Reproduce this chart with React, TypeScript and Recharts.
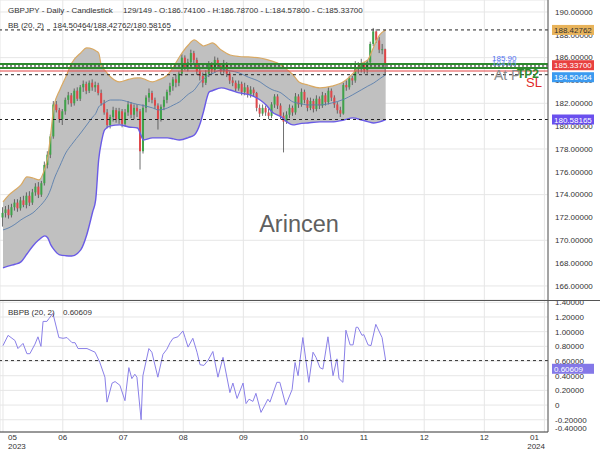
import React from 'react';
import { ComposedChart, LineChart, Line, Area, Bar, XAxis, YAxis, CartesianGrid, ReferenceLine } from 'recharts';

const FONT = '"Liberation Sans", Arial, sans-serif';

// ---- candles (daily GBPJPY) ----
const opens = [172.0,172.4,172.7,172.2,172.9,173.3,172.8,173.5,173.1,173.9,173.3,174.2,174.7,174.0,175.0,176.6,177.5,179.1,181.9,181.4,
180.6,181.3,182.3,182.7,182.0,183.1,182.4,183.4,183.7,183.1,183.8,183.4,183.6,182.9,182.0,181.2,180.1,180.8,181.4,180.6,
181.3,180.2,181.2,181.9,181.0,181.6,181.3,177.8,181.6,182.5,182.9,182.3,181.8,180.6,181.7,182.3,183.0,183.5,184.1,183.8,
184.6,186.0,185.2,185.6,186.4,185.8,184.8,184.4,183.8,184.6,185.4,184.9,185.8,185.3,184.8,185.5,184.6,184.0,183.8,183.3,
183.7,183.0,183.4,182.8,183.2,182.9,181.6,181.1,181.6,181.2,180.9,181.9,182.6,181.8,180.9,180.4,181.0,181.6,181.2,182.6,
181.9,183.0,182.3,181.6,182.2,181.5,182.4,181.8,182.7,182.1,183.1,182.5,181.9,181.4,181.1,183.6,183.4,184.2,184.0,185.2,
185.0,185.4,184.9,185.6,187.2,188.3,187.5,186.7,186.741];
const highs = [172.9,173.0,173.1,173.2,173.6,173.6,173.8,173.9,174.2,174.3,174.5,175.0,175.1,175.2,176.9,177.8,179.3,182.2,182.2,181.6,
181.5,182.5,183.0,182.9,183.3,183.4,183.6,184.0,183.9,184.0,184.1,183.9,183.8,183.2,182.3,181.5,181.0,181.7,181.6,181.6,
181.5,181.5,182.2,182.1,181.9,181.9,181.5,181.9,182.7,183.3,183.1,182.5,182.0,181.9,182.6,183.2,183.8,184.3,184.5,184.8,
186.3,186.2,185.9,186.7,186.6,186.0,185.2,184.7,184.9,185.7,185.6,186.1,186.0,185.5,185.8,185.6,184.8,184.3,184.0,184.0,
183.9,183.8,183.6,183.5,183.4,183.0,181.9,181.9,181.8,181.5,182.1,182.8,182.8,182.0,181.2,181.3,181.9,181.8,182.9,182.8,
183.3,183.2,182.5,182.5,182.4,182.7,182.6,183.0,182.9,183.4,183.3,182.7,182.1,181.7,183.8,184.0,184.4,184.4,185.7,185.6,
185.9,185.6,185.8,187.4,188.6,188.5,187.8,187.2,186.787];
const lows = [171.2,172.0,171.9,172.0,172.6,172.5,172.6,172.9,172.8,173.0,173.1,173.9,173.7,173.8,174.8,176.3,177.2,178.9,181.2,180.3,
180.1,181.0,181.9,181.7,181.8,182.2,182.2,183.0,182.8,182.9,183.1,183.0,182.7,181.8,181.0,179.8,179.8,180.4,180.3,180.2,
179.9,180.0,180.9,180.7,180.6,180.8,176.2,177.6,181.2,182.1,182.0,181.5,179.7,180.4,181.4,182.0,182.7,183.1,183.4,183.5,
184.4,184.9,184.8,185.3,185.5,184.5,184.0,183.4,183.6,184.3,184.6,184.7,185.0,184.5,184.6,184.3,183.7,183.5,183.0,183.1,
182.7,182.7,182.5,182.5,182.6,181.3,180.8,180.9,180.9,180.6,180.7,181.6,181.5,180.6,177.7,180.2,180.7,180.9,181.0,181.6,
181.7,182.0,181.3,181.4,181.2,181.3,181.5,181.6,181.8,181.9,182.2,181.6,181.1,180.8,181.0,183.1,183.2,183.6,183.8,184.6,
184.7,184.6,184.6,185.4,187.0,187.3,186.4,186.3,184.578];
const closes = [172.4,172.7,172.2,172.9,173.3,172.8,173.5,173.1,173.9,173.3,174.2,174.7,174.0,175.0,176.6,177.5,179.1,181.9,181.4,180.6,
181.3,182.3,182.7,182.0,183.1,182.4,183.4,183.7,183.1,183.8,183.4,183.6,182.9,182.0,181.2,180.1,180.8,181.4,180.6,181.3,
180.2,181.2,181.9,181.0,181.6,181.3,177.8,181.6,182.5,182.9,182.3,181.8,180.6,181.7,182.3,183.0,183.5,184.1,183.8,184.6,
186.0,185.2,185.6,186.4,185.8,184.8,184.4,183.8,184.6,185.4,184.9,185.8,185.3,184.8,185.5,184.6,184.0,183.8,183.3,183.7,
183.0,183.4,182.8,183.2,182.9,181.6,181.1,181.6,181.2,180.9,181.9,182.6,181.8,180.9,180.4,181.0,181.6,181.2,182.6,181.9,
183.0,182.3,181.6,182.2,181.5,182.4,181.8,182.7,182.1,183.1,182.5,181.9,181.4,181.1,183.6,183.4,184.2,184.0,185.2,185.0,
185.4,184.9,185.6,187.2,188.3,187.5,186.7,186.74,185.337];

// ---- Bollinger bands (20, 2), read at sampled bars ----
const bandIdx = [0,2,4,6,8,10,12,14,15,16,17,19,21,23,26,28,30,31,32,33,34,36,39,42,45,46,47,50,52,55,57,59,62,64,66,67,69,70,73,76,79,82,86,88,90,93,95,97,99,102,106,110,114,117,120,122,124,126,128];
const bandUpper = [173.36,173.98,174.4,174.85,175.55,175.46,175.29,176.3,177.3,179.4,181.68,183.17,184.31,185.53,186.41,186.85,186.76,186.6,186.41,185.18,184.9,184.3,183.87,184.1,184.22,184.22,184.15,183.87,184.05,184.48,185.18,186.06,187.11,187.55,187.2,187.02,187.2,187.29,186.67,186.23,186.1,186.06,185.97,185.85,185.7,185.36,184.95,184.5,183.87,183.6,183.35,183.5,183.9,184.6,185.5,185.8,186.94,187.99,188.42762];
const bandMid = [170.91,171.1,171.4,171.79,172.1,172.4,172.9,173.5,173.9,174.5,175.29,176.5,177.65,178.4,179.4,180.1,180.8,181.1,181.68,181.9,182.05,182.29,182.29,182.12,181.9,181.86,181.8,181.6,181.42,181.59,181.85,182.12,182.8,183.17,183.87,184.1,184.5,184.6,184.92,184.85,184.66,184.3,183.87,183.5,183.2,182.91,182.5,182.12,182.0,181.86,181.86,182.03,182.35,182.75,183.2,183.5,183.78,184.15,184.50464];
const bandLower = [167.58,167.76,167.9,168.11,168.8,169.5,170.04,170.39,170.2,169.6,169.2,168.72,168.65,168.63,169.16,170.47,172.5,173.54,177.04,178.7,179.67,180.02,180.11,179.93,179.84,179.3,178.79,178.97,178.97,178.97,178.88,178.79,179.0,179.23,180.28,181.2,183.0,183.1,183.35,183.17,182.91,182.78,182.29,181.86,181.24,180.81,180.37,180.11,180.2,180.28,180.37,180.37,180.54,180.72,180.54,180.4,180.28,180.37,180.58165];

// ---- BBPB (20, 2) ----
const bbpbIdx = [0,1.7,4,5,6.7,8,9,10.7,11.7,12.7,13.4,14.7,15.4,16.7,18.7,20.1,21.4,23.1,24.1,25.1,28.1,30.8,32.4,34.1,34.8,36.5,37.5,39.1,40.8,42.1,43.1,44.1,44.8,46.2,46.8,48.8,49.8,51.8,53.5,54.8,55.9,56.9,58.5,60.2,60.9,61.9,63.5,64.9,65.9,67.2,68.6,70.2,71.9,73.6,75.9,76.9,78.3,80.3,81.3,82.3,83.6,84.6,86.3,87.6,88.6,89.3,91.6,92.6,94.6,96.7,97.7,98.7,100.3,102.3,103.7,104.7,106,107,108.7,110.4,111.7,112.4,113.7,114.7,116.1,117.1,118.1,118.7,120.1,120.7,122.1,123.1,124.7,126.8,128];
const bbpbVal = [0.81,0.95,0.88,0.77,0.84,0.70,0.70,0.83,0.93,0.80,1.14,1.14,1.18,1.25,0.92,0.91,0.92,0.85,0.85,0.77,0.77,0.72,0.58,0.38,0.04,0.30,0.32,0.27,0.06,0.51,0.36,0.42,0.38,-0.20,0.40,0.77,0.72,0.38,0.69,0.76,0.85,0.91,0.93,1.01,0.92,0.79,0.91,0.72,0.55,0.54,0.61,0.73,0.38,0.65,0.17,0.30,0.09,0.30,0.02,0.08,0.05,0.16,-0.10,0.00,0.08,0.04,0.31,0.31,0.00,0.21,0.58,0.40,0.92,0.31,0.72,0.65,0.51,0.49,0.93,0.40,0.63,0.36,0.31,1.02,0.82,0.82,1.06,1.06,0.95,0.96,0.82,0.81,1.10,0.92,0.60609];

// ---- axes ----
const monthTicks = [0, 20, 40.2, 60.3, 80.4, 100.6, 120.7, 140.9, 161, 181.1];
const monthLabels = ['05', '06', '07', '08', '09', '10', '11', '12', '12', '01'];
const yearLabels = ['2023', '', '', '', '', '', '', '', '', '2024'];
const priceTicks = [166, 168, 170, 172, 174, 176, 178, 180, 182, 184, 186, 188, 190];
const pbTicks = [-0.31, -0.2, 0, 0.2, 0.4, 0.6, 0.8, 1.0, 1.2, 1.4];
const xDomain = [-1, 182.3];
const priceDomain = [164.77, 191.05];
const pbDomain = [-0.367, 1.418];

const candles = closes.map((c, i) => ({ x: i, range: [lows[i], highs[i]], open: opens[i], high: highs[i], low: lows[i], close: c }));
const bands = bandIdx.map((x, i) => ({ x, upper: bandUpper[i], mid: bandMid[i], lower: bandLower[i], range: [bandLower[i], bandUpper[i]] }));
const bbpb = bbpbIdx.map((x, i) => ({ x, v: bbpbVal[i] }));

const Candle = (props: any) => {
  const { x, y, width, height, payload } = props;
  if (x == null || y == null || !payload) return null;
  const top = Math.min(y, y + height);
  const h = Math.abs(height);
  const { open, close, high, low } = payload;
  const ppu = high > low ? h / (high - low) : 0;
  const yo = top + (high - open) * ppu;
  const yc = top + (high - close) * ppu;
  const cx = x + width / 2;
  const up = close >= open;
  return (
    <g>
      <line x1={cx} x2={cx} y1={top} y2={top + h} stroke="#4a4a4a" strokeWidth={0.8} />
      <rect x={cx - 1} y={Math.min(yo, yc)} width={2} height={Math.max(1, Math.abs(yc - yo))} fill={up ? '#3fa34a' : '#e0474a'} />
    </g>
  );
};

const Badge = (props: any) => {
  const { viewBox, text, bg, fg, dy = 0 } = props;
  if (!viewBox) return null;
  const bx = viewBox.x + viewBox.width + 4;
  const cy = viewBox.y + dy;
  return (
    <g>
      <rect x={bx} y={cy - 5} width={42} height={10} fill={bg} />
      <text x={bx + 2} y={cy + 3} fontSize={8} fontFamily={FONT} fill={fg}>{text}</text>
    </g>
  );
};

const MonthTick = (props: any) => {
  const { x, y, payload } = props;
  const i = monthTicks.indexOf(payload.value);
  let tx = x;
  let anchor: any = 'middle';
  if (i === 0) { tx = 8; anchor = 'start'; }
  if (i === monthTicks.length - 1) { tx = 545; anchor = 'end'; }
  return (
    <g>
      <text x={i === monthTicks.length - 1 ? 539 : tx} y={y + 8} textAnchor={anchor} fontSize={8} fontFamily={FONT} fill="#333">{monthLabels[i]}</text>
      {yearLabels[i] ? <text x={tx} y={y + 17} textAnchor={anchor} fontSize={8} fontFamily={FONT} fill="#333">{yearLabels[i]}</text> : null}
    </g>
  );
};

const fmtPb = (v: number) => (v < -0.25 ? '-0.40000' : v === 0 ? '0' : v.toFixed(5));

export default function App() {
  return (
    <div style={{ position: 'absolute', left: 0, top: 0, width: 600, height: 450, background: '#fff', fontFamily: FONT }}>
      <div style={{ position: 'absolute', left: 0, top: 0 }}>
        <ComposedChart width={600} height={300} data={candles} margin={{ top: 0, right: 0, bottom: 0, left: 0 }}>
          <CartesianGrid stroke="#e6e6e6" strokeWidth={1} />
          <XAxis type="number" dataKey="x" domain={xDomain} ticks={monthTicks} hide allowDataOverflow />
          <YAxis orientation="right" width={52} domain={priceDomain} ticks={priceTicks} allowDataOverflow
            tickFormatter={(v: number) => v.toFixed(5)} tick={{ fontSize: 8, fill: '#333', fontFamily: FONT }}
            tickLine={false} tickSize={0} tickMargin={7} axisLine={{ stroke: '#555' }} />
          <Area data={bands} dataKey="range" type="monotone" stroke="none" fill="#c0c0c0" fillOpacity={1} dot={false} activeDot={false} isAnimationActive={false} />
          <Line data={bands} dataKey="mid" type="monotone" stroke="#5a7fae" strokeWidth={0.9} dot={false} activeDot={false} isAnimationActive={false} />
          <Line data={bands} dataKey="upper" type="monotone" stroke="#d9a963" strokeWidth={1.2} dot={false} activeDot={false} isAnimationActive={false} />
          <Line data={bands} dataKey="lower" type="monotone" stroke="#6a5be6" strokeWidth={1.4} dot={false} activeDot={false} isAnimationActive={false} />
          <Bar dataKey="range" barSize={2} shape={<Candle />} isAnimationActive={false} />
          <ReferenceLine y={188.42762} stroke="#222" strokeDasharray="3 3" />
          <ReferenceLine y={185.45} stroke="#2d8a2d" strokeWidth={2} />
          <ReferenceLine y={185.1} stroke="#2d8a2d" strokeWidth={2} />
          <ReferenceLine y={185.27} stroke="#111" strokeDasharray="2 2" />
          <ReferenceLine y={184.83} stroke="#e04444" strokeWidth={1} />
          <ReferenceLine y={184.50464} stroke="#222" strokeDasharray="3 3" />
          <ReferenceLine y={180.58165} stroke="#222" strokeDasharray="3 3" />
        </ComposedChart>
      </div>
      <div style={{ position: 'absolute', left: 0, top: 0 }}>
        <ComposedChart width={600} height={300} data={candles} margin={{ top: 0, right: 0, bottom: 0, left: 0 }}>
          <XAxis type="number" dataKey="x" domain={xDomain} hide allowDataOverflow />
          <YAxis orientation="right" width={52} domain={priceDomain} ticks={priceTicks} allowDataOverflow tick={false} tickLine={false} axisLine={false} />
          <ReferenceLine y={188.42762} stroke="none" label={<Badge text="188.42762" bg="#e8b35a" fg="#333" />} />
          <ReferenceLine y={185.337} stroke="none" label={<Badge text="185.33700" bg="#e8403f" fg="#fff" />} />
          <ReferenceLine y={184.50464} stroke="none" label={<Badge text="184.50464" bg="#3b9af0" fg="#fff" dy={2.5} />} />
          <ReferenceLine y={180.58165} stroke="none" label={<Badge text="180.58165" bg="#6a50ee" fg="#fff" />} />
        </ComposedChart>
      </div>
      <div style={{ position: 'absolute', left: 0, top: 300 }}>
        <LineChart width={600} height={150} data={bbpb} margin={{ top: 1, right: 0, bottom: 0, left: 0 }}>
          <CartesianGrid stroke="#e6e6e6" strokeWidth={1} horizontalValues={[-0.2, 0, 0.2, 0.4, 0.6, 0.8, 1.0, 1.2, 1.4]} />
          <XAxis type="number" dataKey="x" domain={xDomain} ticks={monthTicks} allowDataOverflow height={18}
            tick={<MonthTick />} tickLine={false} tickSize={0} tickMargin={0} axisLine={{ stroke: '#333' }} interval={0} />
          <YAxis orientation="right" width={52} domain={pbDomain} ticks={pbTicks} allowDataOverflow
            tickFormatter={fmtPb} tick={{ fontSize: 8, fill: '#333', fontFamily: FONT }}
            tickLine={false} tickSize={0} tickMargin={7} axisLine={{ stroke: '#555' }} interval={0} />
          <Line dataKey="v" type="linear" stroke="#8a80e8" strokeWidth={1} dot={false} activeDot={false} isAnimationActive={false} />
          <ReferenceLine y={0.60609} stroke="#333" strokeDasharray="3 3" />
        </LineChart>
      </div>
      <div style={{ position: 'absolute', left: 0, top: 300 }}>
        <LineChart width={600} height={150} data={bbpb} margin={{ top: 1, right: 0, bottom: 0, left: 0 }}>
          <XAxis type="number" dataKey="x" domain={xDomain} hide allowDataOverflow height={18} />
          <YAxis orientation="right" width={52} domain={pbDomain} ticks={pbTicks} allowDataOverflow tick={false} tickLine={false} axisLine={false} />
          <ReferenceLine y={0.60609} stroke="none" label={<Badge text="0.60609" bg="#8478e8" fg="#fff" />} />
        </LineChart>
      </div>
      <svg width={600} height={450} style={{ position: 'absolute', left: 0, top: 0, pointerEvents: 'none' }} fontFamily={FONT}>
        <text x={8} y={13} fontSize={8} fill="#333">GBPJPY - Daily - Candlestick</text>
        <text x={123} y={13} fontSize={8} fill="#333">129/149 - O:186.74100 - H:186.78700 - L:184.57800 - C:185.33700</text>
        <text x={8} y={28} fontSize={8} fill="#333">BB (20, 2)</text>
        <text x={53} y={28} fontSize={8} fill="#333">184.50464/188.42762/180.58165</text>
        <text x={8} y={315} fontSize={8} fill="#333">BBPB (20, 2)</text>
        <text x={63} y={315} fontSize={8} fill="#333">0.60609</text>
        <text x={299} y={232} fontSize={23.5} fill="#606060" textAnchor="middle">Arincen</text>
        <text x={492} y={61} fontSize={8} fill="#4f6ff0">185.90</text>
        <text x={492} y={66} fontSize={8} fill="#7b95f2">184.65</text>
        <text x={494} y={80} fontSize={14} fill="#8c8c8c">At P</text>
        <text x={517} y={78} fontSize={12} fontWeight="bold" fill="#2e8b2e">TP2</text>
        <text x={526} y={87} fontSize={13} fill="#e02828">SL</text>
        <line x1={0} x2={600} y1={300.5} y2={300.5} stroke="#555" strokeWidth={1} />
      </svg>
    </div>
  );
}
